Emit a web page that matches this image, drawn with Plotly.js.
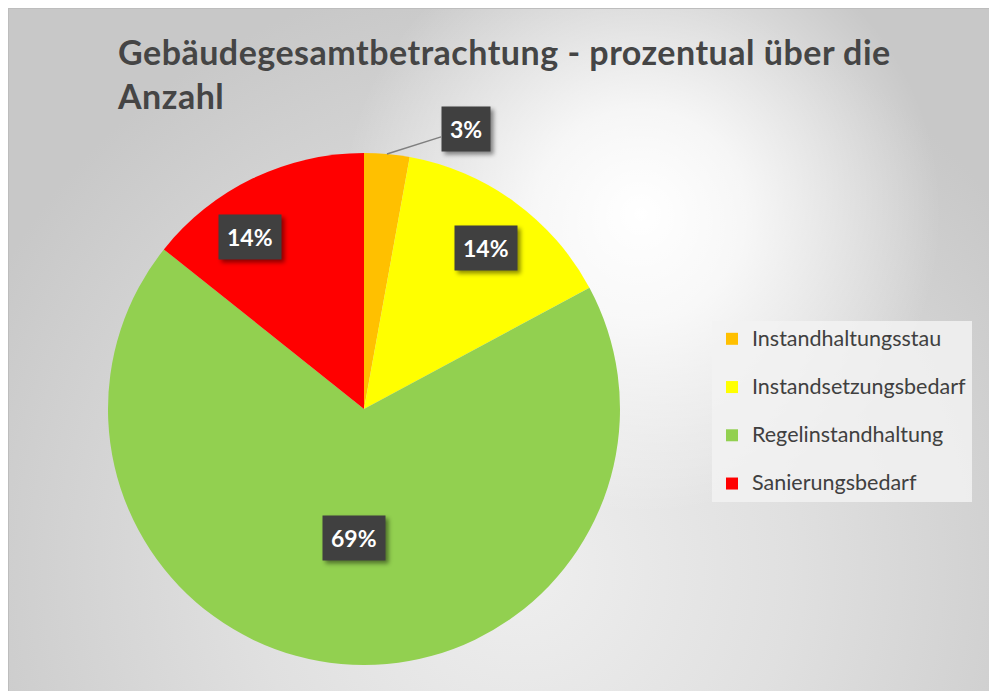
<!DOCTYPE html>
<html><head><meta charset="utf-8">
<script src="https://cdn.plot.ly/plotly-3.0.1.min.js"></script>
<style>
html,body{margin:0;padding:0;background:#fff;}
#bg{position:absolute;left:8px;top:8px;width:981px;height:683px;box-sizing:border-box;border-top:1px solid #bdbdbd;border-left:1px solid #bdbdbd;
background:
 radial-gradient(circle 300px at 632px 205px, rgba(255,255,255,1) 0%, rgba(255,255,255,0.8) 35%, rgba(255,255,255,0) 100%),
 radial-gradient(ellipse 600px 600px at 512px 560px, #efefef 0%, #e0e0e0 45%, #c8c8c8 100%);}
#chart{position:absolute;left:0;top:0;width:989px;height:691px;}
g.annotation rect.bg{filter:drop-shadow(3px 3px 2px rgba(0,0,0,0.45));}
.gtitle{letter-spacing:0.5px;}
</style></head>
<body><div id="bg"></div><div id="chart"></div>
<script>
// ---- data ----
const categories = ['Instandhaltungsstau', 'Instandsetzungsbedarf', 'Regelinstandhaltung', 'Sanierungsbedarf'];
const counts = [1, 5, 24, 5];
const sliceColors = ['#FFC000', '#FFFF00', '#92D050', '#FF0000'];
const chartTitle = 'Gebäudegesamtbetrachtung - prozentual über die<br>Anzahl';

// ---- layout geometry ----
const W = 989, H = 691;
const pieCx = 364, pieCy = 409, pieR = 256;
const labelRadius = [1.163, 0.7875, 0.504, 0.808];
const labelAngleShift = [14.8, 1.2, -0.8, -7.8];

const total = counts.reduce((a, b) => a + b, 0);
const px2x = p => p / W;
const py2y = p => 1 - p / H;

let cum = 0;
const annotations = [];
counts.forEach((v, i) => {
  const midDeg = (cum + v / 2) / total * 360;
  cum += v;
  const th = (midDeg + labelAngleShift[i]) * Math.PI / 180;
  const lx = pieCx + labelRadius[i] * pieR * Math.sin(th);
  const ly = pieCy - labelRadius[i] * pieR * Math.cos(th);
  const txt = Math.round(v / total * 100) + '%';
  const base = {
    text: txt, font: {family: 'Lato', size: 23, color: '#ffffff', weight: 700},
    bgcolor: '#404040', borderpad: 8, xref: 'paper', yref: 'paper',
    xanchor: 'center', yanchor: 'middle'
  };
  if (labelRadius[i] > 1) {
    const mr = midDeg * Math.PI / 180;
    const tx = pieCx + pieR * Math.sin(mr);
    const ty = pieCy - pieR * Math.cos(mr);
    annotations.push(Object.assign(base, {
      x: px2x(tx), y: py2y(ty), showarrow: true, arrowhead: 0, arrowwidth: 1.5,
      arrowcolor: '#7f7f7f', standoff: 0, ax: lx - tx, ay: ly - ty
    }));
  } else {
    annotations.push(Object.assign(base, {x: px2x(lx), y: py2y(ly), showarrow: false}));
  }
});

const trace = {
  type: 'pie',
  labels: categories.map((c, i) => '<span style="font-size:21.5px">' + c + '</span>' +
    (i < categories.length - 1 ? '<br>\u00a0' : '')),
  values: counts,
  marker: {colors: sliceColors, line: {width: 0}},
  sort: false,
  direction: 'clockwise',
  rotation: 0,
  textinfo: 'none',
  hoverinfo: 'percent',
  domain: {x: [(pieCx - pieR) / W, (pieCx + pieR) / W], y: [1 - (pieCy + pieR) / H, 1 - (pieCy - pieR) / H]}
};

const layout = {
  width: W, height: H,
  margin: {l: 0, r: 0, t: 0, b: 0},
  paper_bgcolor: 'rgba(0,0,0,0)',
  plot_bgcolor: 'rgba(0,0,0,0)',
  title: {
    text: chartTitle, x: 118 / W, xanchor: 'left', xref: 'container',
    y: 1 - 65 / H, yanchor: 'top', yref: 'container',
    font: {family: 'Lato', size: 34, color: '#454545', weight: 700}
  },
  showlegend: true,
  legend: {
    x: 712 / W, xanchor: 'left', y: 1 - 321 / H, yanchor: 'top',
    bgcolor: 'rgba(242,242,242,0.85)', borderwidth: 0,
    font: {family: 'Lato', size: 17.4, color: '#404040'},
    valign: 'top', itemclick: false
  },
  annotations: annotations
};

Plotly.newPlot('chart', [trace], layout, {displayModeBar: false, staticPlot: true});
</script>
</body></html>
